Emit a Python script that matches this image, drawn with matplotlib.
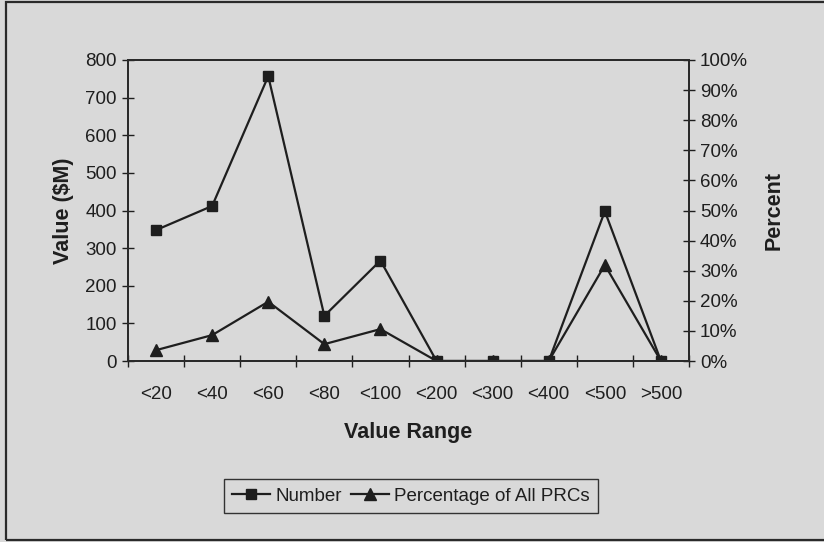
import matplotlib
matplotlib.use("Agg")
import matplotlib.pyplot as plt
from matplotlib.patches import Rectangle
from matplotlib.ticker import FuncFormatter, MultipleLocator, FixedLocator

# Value ranges ($M) and the two series
ranges = ["<20", "<40", "<60", "<80", "<100", "<200", "<300", "<400", "<500", ">500"]
number = [348, 412, 757, 120, 267, 0, 0, 0, 398, 0]
pct_of_prcs = [3.6, 8.6, 19.7, 5.6, 10.6, 0, 0, 0, 31.9, 0]

BG = "#d9d9d9"
INK = "#1e1e1e"
plt.rcParams["font.family"] = ["Liberation Sans", "DejaVu Sans"]

fig = plt.figure(figsize=(8.24, 5.42), dpi=100, facecolor=BG)
ax = fig.add_axes([128 / 824, 1 - 361 / 542, 561 / 824, 301 / 542])
ax2 = ax.twinx()

x = list(range(len(ranges)))

# percentage goes on the secondary axis, drawn underneath the number series
l2, = ax2.plot(x, pct_of_prcs, color=INK, lw=1.6, marker="^", ms=8.5,
               markerfacecolor=INK, markeredgecolor=INK)
l1, = ax.plot(x, number, color=INK, lw=1.6, marker="s", ms=7.5,
              markerfacecolor=INK, markeredgecolor=INK)
ax.set_zorder(ax2.get_zorder() + 1)
ax.patch.set_visible(False)
ax2.patch.set_facecolor(BG)

ax.set_xlim(-0.5, len(ranges) - 0.5)
ax.set_ylim(0, 800)
ax2.set_ylim(0, 100)
ax.yaxis.set_major_locator(MultipleLocator(100))
ax2.yaxis.set_major_locator(MultipleLocator(10))
ax2.yaxis.set_major_formatter(FuncFormatter(lambda v, p: f"{v:.0f}%"))

# category labels sit between the boundary ticks
ax.set_xticks(x)
ax.set_xticklabels(ranges)
ax.xaxis.set_minor_locator(FixedLocator([i + 0.5 for i in range(-1, len(ranges))]))
ax.tick_params(axis="x", which="major", length=0, pad=18, labelsize=13.5, labelcolor=INK)
ax.tick_params(axis="x", which="minor", direction="inout", length=8, width=1, color=INK)
ax.tick_params(axis="y", direction="inout", length=8, width=1, color=INK,
               labelsize=13.5, labelcolor=INK, pad=4)
ax2.tick_params(axis="y", direction="inout", length=8, width=1, color=INK,
                labelsize=13.5, labelcolor=INK, pad=4)

for a in (ax, ax2):
    for s in a.spines.values():
        s.set_color("#2a2a2a")
        s.set_linewidth(1.4)

ax.set_ylabel("Value ($M)", fontsize=15.5, fontweight="bold", color=INK, labelpad=8)
ax2.set_ylabel("Percent", fontsize=15.5, fontweight="bold", color=INK, labelpad=11)
ax.set_xlabel("Value Range", fontsize=15.5, fontweight="bold", color=INK, labelpad=14)

leg = fig.legend([l1, l2], ["Number", "Percentage of All PRCs"], loc="center",
                 bbox_to_anchor=(411 / 824, 1 - 496 / 542), ncol=2, frameon=True,
                 fancybox=False, edgecolor="#333333", facecolor=BG, framealpha=1,
                 fontsize=13.5, handlelength=2.0, handletextpad=0.3,
                 columnspacing=0.5, borderpad=0.45)
leg.get_frame().set_linewidth(1.0)
for t in leg.get_texts():
    t.set_color(INK)

# outer frame of the chart (its right edge falls outside the canvas)
fig.patches.append(Rectangle((6 / 824, 2 / 542), 1.2, 538 / 542, transform=fig.transFigure,
                             fill=False, edgecolor="#2a2a2a", lw=1.6))

fig.savefig("out.png", dpi=100, facecolor=BG)
